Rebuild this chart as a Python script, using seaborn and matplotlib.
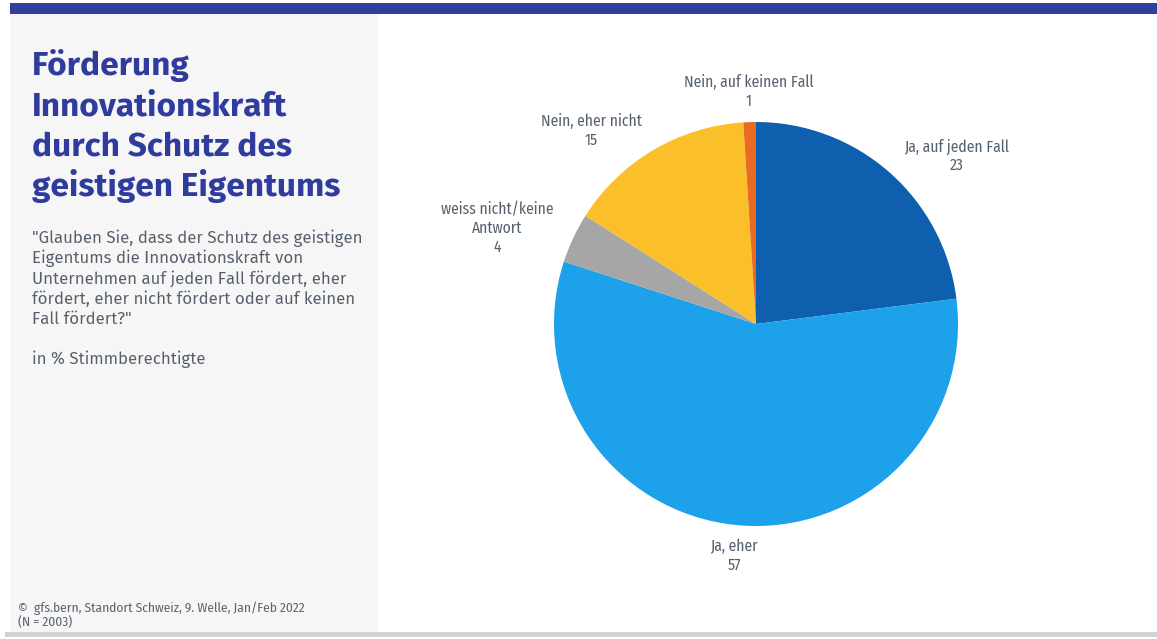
import matplotlib
matplotlib.use("Agg")
import matplotlib.pyplot as plt
import seaborn as sns
from matplotlib.patches import Rectangle
from matplotlib import font_manager

# ---- data ----
categories = ["Ja, auf jeden Fall", "Ja, eher", "weiss nicht/keine\nAntwort",
              "Nein, eher nicht", "Nein, auf keinen Fall"]
values = [23, 57, 4, 15, 1]
slice_colors = ["#0E5FAD", "#1DA1EA", "#A6A6A6", "#FBBF2A", "#E96A22"]

title_lines = ["Förderung", "Innovationskraft", "durch Schutz des", "geistigen Eigentums"]
question_lines = ['"Glauben Sie, dass der Schutz des geistigen',
                  "Eigentums die Innovationskraft von",
                  "Unternehmen auf jeden Fall fördert, eher",
                  "fördert, eher nicht fördert oder auf keinen",
                  'Fall fördert?"']
unit_text = "in % Stimmberechtigte"
footer_lines = ["©  gfs.bern, Standort Schweiz, 9. Welle, Jan/Feb 2022", "(N = 2003)"]

sns.set_theme(style="white")

names = {f.name for f in font_manager.fontManager.ttflist}
main_family = "Fira Sans" if "Fira Sans" in names else "Open Sans"
plt.rcParams["font.family"] = [main_family, "DejaVu Sans"]

cond_family = None
for cand in ["Fira Sans Condensed", "Roboto Condensed", "Liberation Sans Narrow"]:
    if cand in names:
        cond_family = cand
        break
cond_stretch = "normal"
if cond_family is None:
    for f in font_manager.fontManager.ttflist:
        if ("narrow" in f.fname.lower() or "condensed" in f.fname.lower()) and f.style == "normal":
            cond_family = f.name
            cond_stretch = f.stretch
            break
if cond_family is None:
    cond_family = "DejaVu Sans"
cond_fp = dict(family=[cond_family, "DejaVu Sans"], stretch=cond_stretch)

W, H = 1157, 639
fig = plt.figure(figsize=(W / 100, H / 100), dpi=100)
fig.patch.set_facecolor("white")


def fx(x):
    return x / W


def fy(y):
    return 1 - y / H


# decorative panels
fig.add_artist(Rectangle((fx(10), fy(633)), fx(378) - fx(10), fy(14) - fy(633),
                         transform=fig.transFigure, facecolor="#F6F6F6", edgecolor="none", zorder=0))
fig.add_artist(Rectangle((fx(10), fy(14)), 1 - fx(10), fy(3) - fy(14),
                         transform=fig.transFigure, facecolor="#323E9C", edgecolor="none", zorder=1))
fig.add_artist(Rectangle((fx(5), fy(637)), 1 - fx(5), fy(632) - fy(637),
                         transform=fig.transFigure, facecolor="#D2D2D2", edgecolor="none", zorder=1))

# title
title_color = "#2F3C9E"
for i, line in enumerate(title_lines):
    fig.text(fx(32), fy(75.5 + 40.2 * i), line, fontsize=24, fontweight="bold",
             color=title_color, va="baseline", ha="left")

text_grey = "#56606C"
for i, line in enumerate(question_lines):
    fig.text(fx(32), fy(243 + 20.3 * i), line, fontsize=12.1, color=text_grey,
             va="baseline", ha="left")
fig.text(fx(32), fy(364), unit_text, fontsize=12.1, color=text_grey, va="baseline", ha="left")

for i, line in enumerate(footer_lines):
    fig.text(fx(18), fy(612 + 14.5 * i), line, fontsize=9.6, color="#5A6470",
             va="baseline", ha="left", **cond_fp)

# pie
R = 202
cx, cy = 756, 324
L = 1.5
S = 2 * L * R
ax = fig.add_axes([fx(cx - S / 2), fy(cy + S / 2), S / W, S / H])
ax.set_xlim(-L, L)
ax.set_ylim(-L, L)
ax.axis("off")

labels = [f"{c}\n{v}" for c, v in zip(categories, values)]
side_dist = 1.11
wedges, texts = ax.pie(values, labels=labels, colors=slice_colors, startangle=90,
                       counterclock=False, labeldistance=side_dist, radius=1,
                       wedgeprops=dict(linewidth=0),
                       textprops=dict(fontsize=11.2, color="#56616E",
                                      linespacing=1.22, **cond_fp))
for t in texts:
    x, y = t.get_position()
    t.set_multialignment("center")
    if abs(x) < 0.3:
        t.set_ha("center")
        k = 1.15 / side_dist
        t.set_position((x * k, y * k))
ax.set_xlim(-L, L)
ax.set_ylim(-L, L)

fig.savefig("out.png", dpi=100)
